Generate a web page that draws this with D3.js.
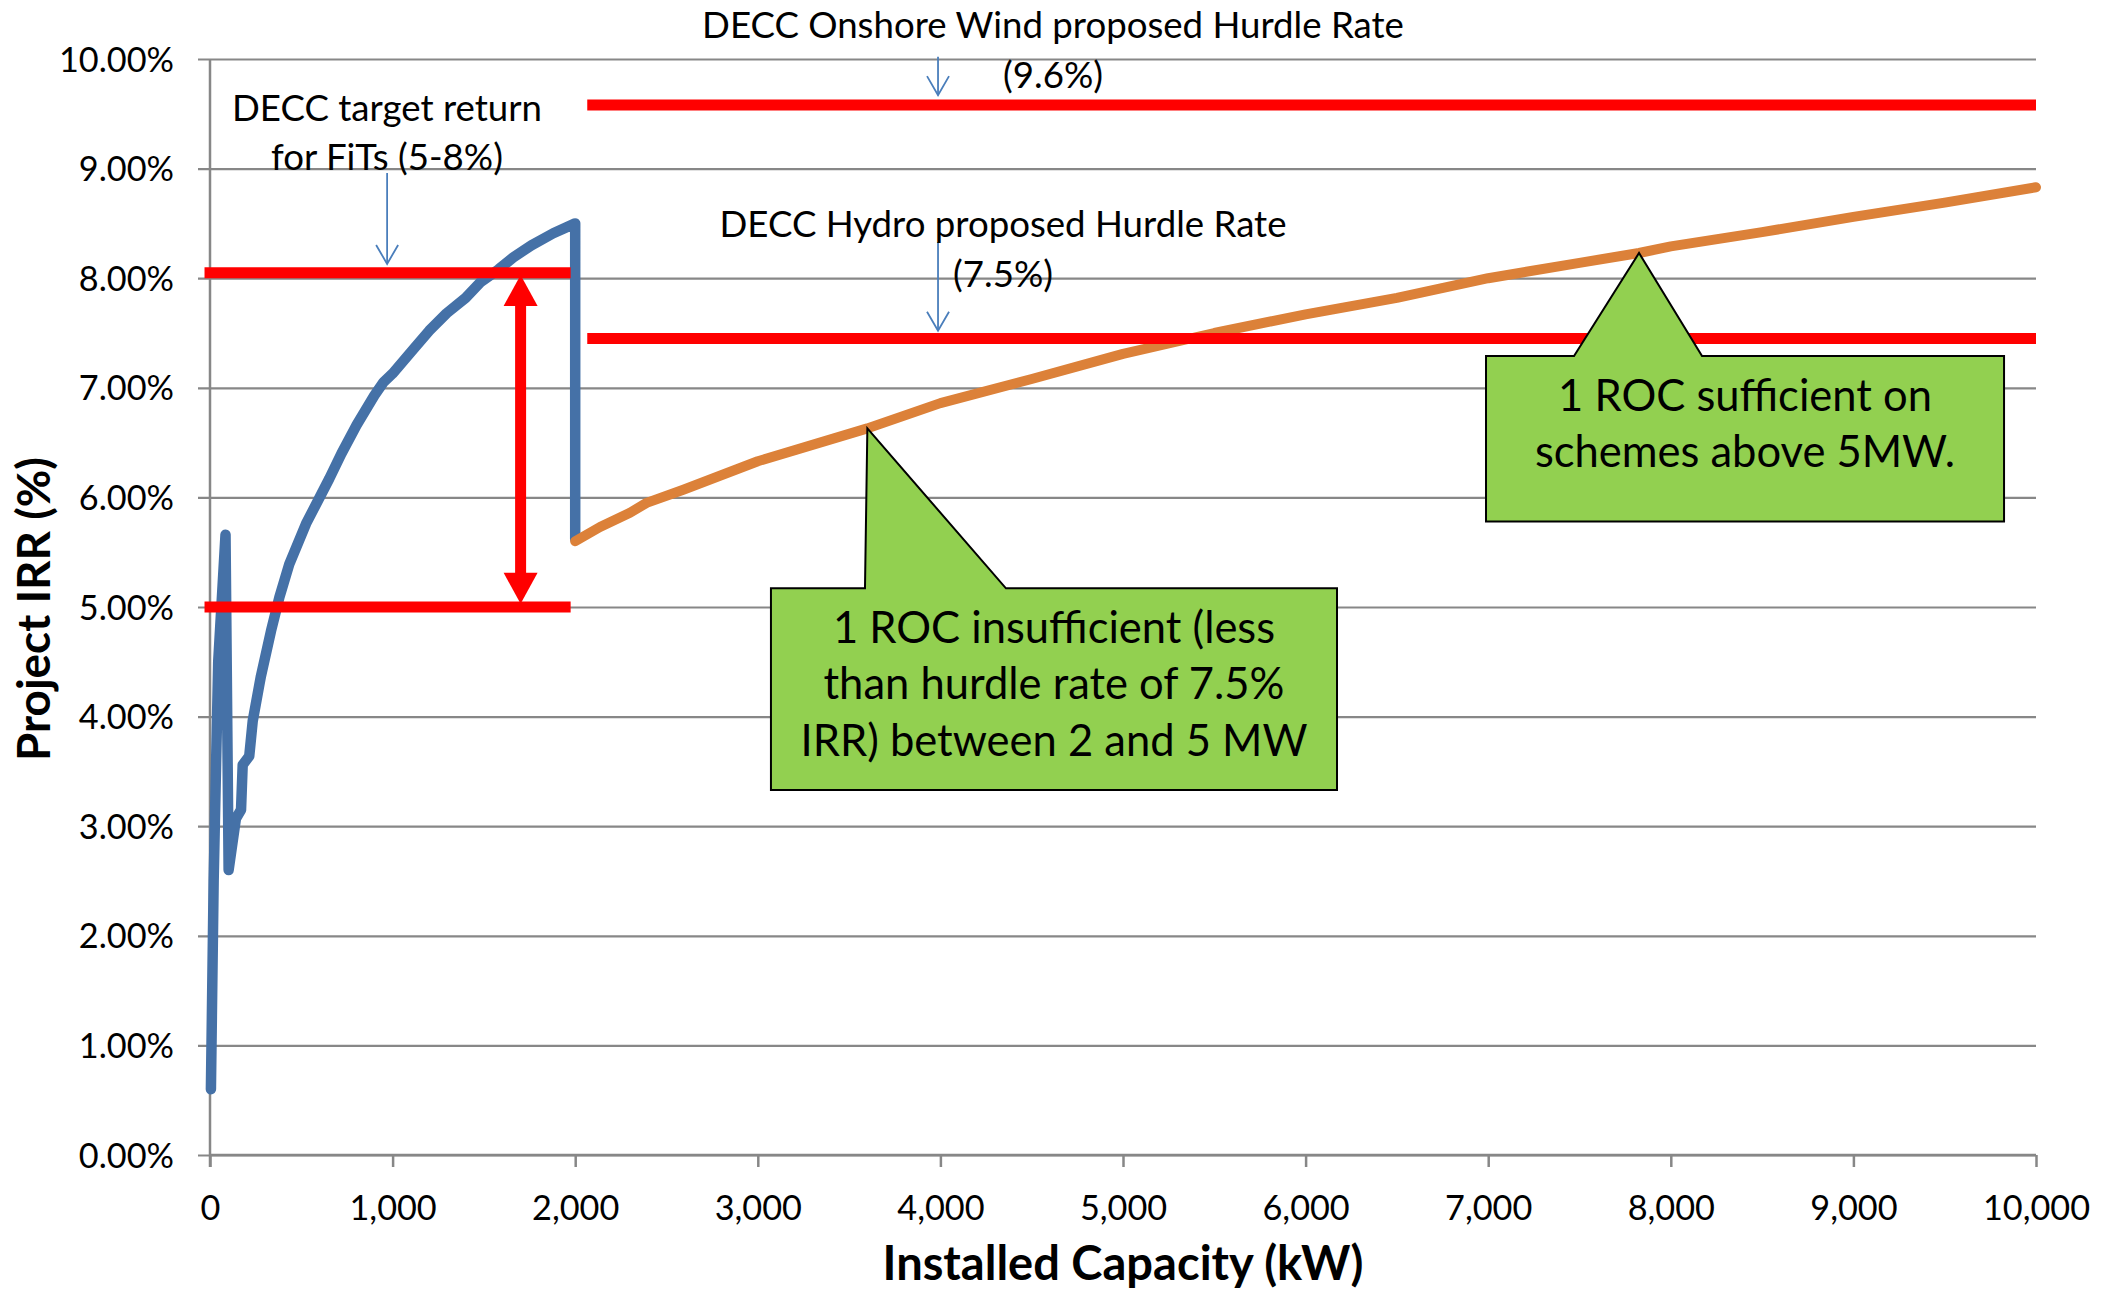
<!DOCTYPE html>
<html>
<head>
<meta charset="utf-8">
<script src="https://cdn.jsdelivr.net/npm/d3@7"></script>
<style>
  html, body { margin: 0; padding: 0; background: #ffffff; }
  svg { display: block; }
</style>
</head>
<body>
<svg id="chart" width="2109" height="1294"></svg>
<script>
// ---- data -------------------------------------------------------------
// Feed-in-tariff scheme IRR by installed capacity (kW, %)
const fitCapacity = [5, 20, 45, 85, 102, 142, 170, 179, 215, 234, 270, 279, 334, 380, 434, 526, 653, 720, 803, 900, 950, 1000, 1113, 1200, 1296, 1400, 1479, 1580, 1661, 1760, 1880, 2000, 2000];
const fitIrr      = [0.60, 2.50, 4.50, 5.66, 2.60, 3.07, 3.15, 3.56, 3.64, 3.96, 4.29, 4.37, 4.78, 5.09, 5.39, 5.76, 6.17, 6.40, 6.66, 6.93, 7.05, 7.13, 7.35, 7.52, 7.68, 7.82, 7.96, 8.08, 8.19, 8.30, 8.41, 8.50, 5.62];

// Renewables Obligation (1 ROC) IRR by installed capacity (kW, %)
const rocCapacity = [2000, 2136, 2300, 2391, 2592, 3000, 3600, 4000, 4500, 5000, 5500, 6000, 6500, 7000, 7500, 7826, 8000, 8500, 9000, 9500, 10000];
const rocIrr      = [5.60, 5.73, 5.86, 5.95, 6.07, 6.33, 6.63, 6.86, 7.08, 7.31, 7.50, 7.67, 7.82, 8.00, 8.14, 8.23, 8.29, 8.42, 8.56, 8.69, 8.83];

// Reference rates (%), each drawn over a capacity span (kW)
const refRates  = [8.05, 5.00, 9.58, 7.45];
const refStart  = [-30, -30, 2066, 2066];
const refEnd    = [1975, 1975, 10000, 10000];

// FiT target band (5-8%) marked at this capacity
const bandCapacity = 1701;
const bandLow = 5.03, bandHigh = 8.03;

// Pointer arrows: capacity, start rate, end rate
const pointerCapacity = [970, 3987, 3987];
const pointerFrom     = [8.96, 10.02, 8.33];
const pointerTo       = [8.13, 9.67, 7.52];

// Axis ticks
const xTicks = [0, 1000, 2000, 3000, 4000, 5000, 6000, 7000, 8000, 9000, 10000];
const yTicks = [0, 1, 2, 3, 4, 5, 6, 7, 8, 9, 10];

// ---- layout -----------------------------------------------------------
const W = 2109, H = 1294;
const X0 = 210, X1 = 2036, Y0 = 1155, Y1 = 59;
const FONT = "Lato, 'Open Sans', 'Noto Sans', sans-serif";

const svg = d3.select("#chart");
svg.append("rect").attr("width", W).attr("height", H).attr("fill", "#ffffff");

const x = d3.scaleLinear().domain([0, 10000]).range([X0, X1]);
const y = d3.scaleLinear().domain([0, 10]).range([Y0, Y1]);

function fitSize(sample, weight, width) {
  const t = svg.append("text").attr("font-family", FONT).attr("font-weight", weight)
    .attr("font-size", 100).text(sample);
  const w = t.node().getComputedTextLength();
  t.remove();
  return 100 * width / w;
}
const tickSize   = fitSize("10.00%", 400, 115);
const noteSize   = fitSize("DECC target return", 400, 310);
const calloutSz  = fitSize("than hurdle rate of 7.5%", 400, 461);
const xTitleSize = fitSize("Installed Capacity (kW)", 700, 481);
const yTitleSize = fitSize("Project IRR (%)", 700, 304);

const GRID = "#878787";

// ---- gridlines and axes ----------------------------------------------
const yAxis = d3.axisLeft(y).tickValues(yTicks).tickSize(-(X1 - X0) - 12)
  .tickFormat(d => d3.format(".2f")(d) + "%").tickPadding(24);
const gy = svg.append("g").attr("transform", `translate(${X0 - 12},0)`).call(yAxis);
gy.select(".domain").remove();
gy.selectAll(".tick line").attr("stroke", GRID).attr("stroke-width", 2.2)
  .attr("x1", 0).attr("x2", X1 - X0 + 12);
gy.selectAll(".tick text").attr("font-family", FONT).attr("font-size", tickSize)
  .attr("fill", "#000").attr("x", -(X0 - 12 - 174)).attr("dy", "0.35em");

const xAxis = d3.axisBottom(x).tickValues(xTicks).tickSize(12)
  .tickFormat(d3.format(",")).tickPadding(22);
const gx = svg.append("g").attr("transform", `translate(0,${Y0})`).call(xAxis);
gx.select(".domain").attr("stroke", GRID).attr("stroke-width", 2.5)
  .attr("d", `M${X0},0H${X1}`);
gx.selectAll(".tick line").attr("stroke", GRID).attr("stroke-width", 2.5);
gx.selectAll(".tick text").attr("font-family", FONT).attr("font-size", tickSize)
  .attr("fill", "#000").attr("dy", "0.9em");

svg.append("line").attr("x1", X0).attr("x2", X0).attr("y1", Y1).attr("y2", Y0 + 12)
  .attr("stroke", GRID).attr("stroke-width", 2.5);

// axis titles
svg.append("text").attr("x", (X0 + X1) / 2).attr("y", 1280)
  .attr("text-anchor", "middle").attr("font-family", FONT).attr("font-weight", 700)
  .attr("font-size", xTitleSize).text("Installed Capacity (kW)");
svg.append("text").attr("transform", "translate(50,609) rotate(-90)")
  .attr("text-anchor", "middle").attr("font-family", FONT).attr("font-weight", 700)
  .attr("font-size", yTitleSize).text("Project IRR (%)");

// ---- series -----------------------------------------------------------
const line = d3.line().x(d => x(d[0])).y(d => y(d[1]));
const fitSeries = fitCapacity.map((c, i) => [c, fitIrr[i]]);
const rocSeries = rocCapacity.map((c, i) => [c, rocIrr[i]]);

svg.append("path").datum(fitSeries).attr("d", line).attr("fill", "none")
  .attr("stroke", "#4571a7").attr("stroke-width", 10.5)
  .attr("stroke-linejoin", "round").attr("stroke-linecap", "round");
svg.append("path").datum(rocSeries).attr("d", line).attr("fill", "none")
  .attr("stroke", "#dc8139").attr("stroke-width", 10)
  .attr("stroke-linejoin", "round").attr("stroke-linecap", "round");

// ---- reference rates --------------------------------------------------
svg.append("g").selectAll("line").data(refRates).join("line")
  .attr("x1", (d, i) => x(refStart[i])).attr("x2", (d, i) => x(refEnd[i]))
  .attr("y1", d => y(d)).attr("y2", d => y(d))
  .attr("stroke", "#ff0000").attr("stroke-width", 11);

// double-headed arrow spanning the FiT band
(function () {
  const bx = x(bandCapacity), top = y(bandHigh), bot = y(bandLow);
  const head = 31, half = 17;
  const g = svg.append("g").attr("fill", "#ff0000");
  g.append("line").attr("x1", bx).attr("x2", bx).attr("y1", top + head - 2).attr("y2", bot - head + 2)
    .attr("stroke", "#ff0000").attr("stroke-width", 11);
  g.append("path").attr("d", `M${bx},${top}L${bx + half},${top + head}L${bx - half},${top + head}Z`);
  g.append("path").attr("d", `M${bx},${bot}L${bx + half},${bot - head}L${bx - half},${bot - head}Z`);
})();

// ---- pointer arrows ---------------------------------------------------
const pg = svg.append("g").attr("stroke", "#4a7ebb").attr("stroke-width", 1.8).attr("fill", "none");
pointerCapacity.forEach((c, i) => {
  const px = x(c), ya = y(pointerFrom[i]), yb = y(pointerTo[i]);
  pg.append("line").attr("x1", px).attr("x2", px).attr("y1", ya).attr("y2", yb);
  pg.append("path").attr("d", `M${px - 11},${yb - 19}L${px},${yb}L${px + 11},${yb - 19}`);
});

// ---- annotation text --------------------------------------------------
const notes = [
  { cx: 1053, by: 38, text: "DECC Onshore Wind proposed Hurdle Rate" },
  { cx: 1053, by: 88, text: "(9.6%)" },
  { cx: 1003, by: 237, text: "DECC Hydro proposed Hurdle Rate" },
  { cx: 1003, by: 287, text: "(7.5%)" },
  { cx: 387, by: 121, text: "DECC target return" },
  { cx: 387, by: 170, text: "for FiTs (5-8%)" }
];
svg.append("g").selectAll("text").data(notes).join("text")
  .attr("x", d => d.cx).attr("y", d => d.by).attr("text-anchor", "middle")
  .attr("font-family", FONT).attr("font-size", noteSize).attr("fill", "#000")
  .text(d => d.text);

// ---- callouts ---------------------------------------------------------
const callouts = [
  { tip: [3600, 6.63], left: 3072, right: 6172, top: 5.17, bottom: 3.33, baseL: 3587, baseR: 4359,
    lines: ["1 ROC insufficient (less", "than hurdle rate of 7.5%", "IRR) between 2 and 5 MW"],
    baselines: [643, 699, 756] },
  { tip: [7826, 8.23], left: 6988, right: 9825, top: 7.29, bottom: 5.78, baseL: 7470, baseR: 8171,
    lines: ["1 ROC sufficient on", "schemes above 5MW."],
    baselines: [411, 467] }
];
callouts.forEach(c => {
  const L = x(c.left), R = x(c.right), T = y(c.top), B = y(c.bottom);
  const pts = [[L, T], [x(c.baseL), T], [x(c.tip[0]), y(c.tip[1])], [x(c.baseR), T], [R, T], [R, B], [L, B]];
  svg.append("path").attr("d", "M" + pts.map(p => p.join(",")).join("L") + "Z")
    .attr("fill", "#92d050").attr("stroke", "#000").attr("stroke-width", 2)
    .attr("stroke-linejoin", "miter");
  const cx = (L + R) / 2;
  c.lines.forEach((t, i) => {
    svg.append("text").attr("x", cx).attr("y", c.baselines[i]).attr("text-anchor", "middle")
      .attr("font-family", FONT).attr("font-size", calloutSz).attr("fill", "#000").text(t);
  });
});
</script>
</body>
</html>
